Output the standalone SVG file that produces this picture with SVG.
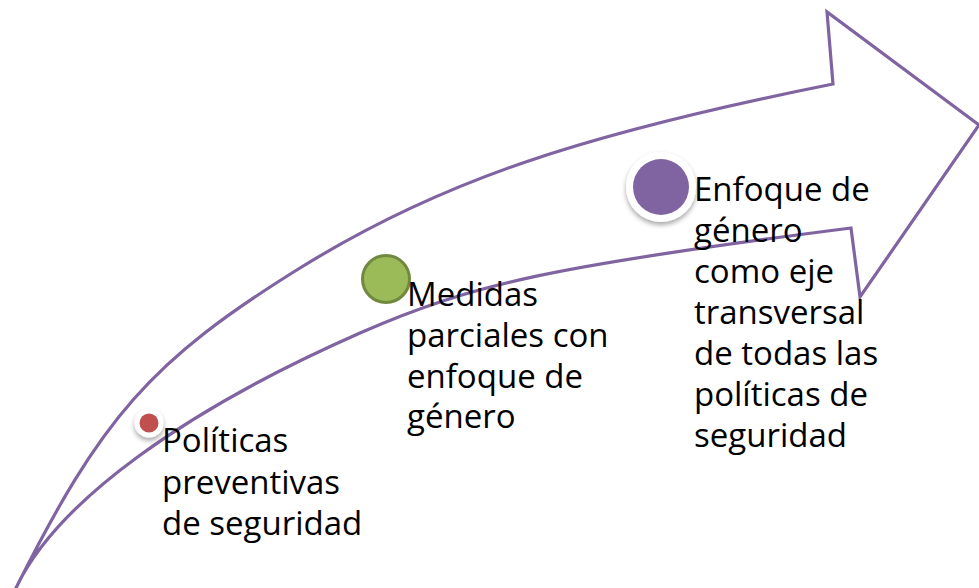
<svg xmlns="http://www.w3.org/2000/svg" width="979" height="588" viewBox="0 0 979 588">
  <defs>
    <filter id="shadow" x="-50%" y="-50%" width="200%" height="200%">
      <feDropShadow dx="0" dy="3" stdDeviation="2.5" flood-color="#000000" flood-opacity="0.35"/>
    </filter>
  </defs>
  <style>
    .arrow { fill: none; stroke: #8064A2; stroke-width: 3.2; stroke-linejoin: miter; }
    .label { font-family: "Open Sans", "Liberation Sans", sans-serif; font-size: 33px; fill: #000000; }
    .ring { fill: #FFFFFF; filter: url(#shadow); }
  </style>
  <rect width="979" height="588" fill="#FFFFFF"/>
  <g id="connectors">
    <path class="arrow" d="M15,590 C101,418 150.3,360.8 300,268 C441.8,180.1 584.1,133.8 833,84 L827,12 L979,125 L860,297 L851,228 C557.6,265.3 472.6,283.5 360,333 C188.9,408.3 55.7,500.6 15,590 Z"/>
  </g>
  <g id="node1">
    <circle class="ring" cx="149" cy="423" r="14.5"/>
    <circle cx="149" cy="423" r="9.5" fill="#C0504D"/>
    <text class="label" x="162" y="452">Políticas<tspan x="162" dy="41.5">preventivas</tspan><tspan x="162" dy="41.5">de seguridad</tspan></text>
  </g>
  <g id="node2">
    <circle cx="386" cy="279" r="23.5" fill="#9BBB59" stroke="#71893F" stroke-width="3"/>
    <text class="label" x="407" y="306">Medidas<tspan x="407" dy="41">parciales con</tspan><tspan x="407" dy="41">enfoque de</tspan><tspan x="407" dy="40">género</tspan></text>
  </g>
  <g id="node3">
    <circle class="ring" cx="661" cy="187" r="35"/>
    <circle cx="661" cy="187" r="28" fill="#8064A2"/>
    <text class="label" x="694" y="201">Enfoque de<tspan x="694" dy="41">género</tspan><tspan x="694" dy="41">como eje</tspan><tspan x="694" dy="41">transversal</tspan><tspan x="694" dy="41">de todas las</tspan><tspan x="694" dy="41">políticas de</tspan><tspan x="694" dy="41">seguridad</tspan></text>
  </g>
</svg>
